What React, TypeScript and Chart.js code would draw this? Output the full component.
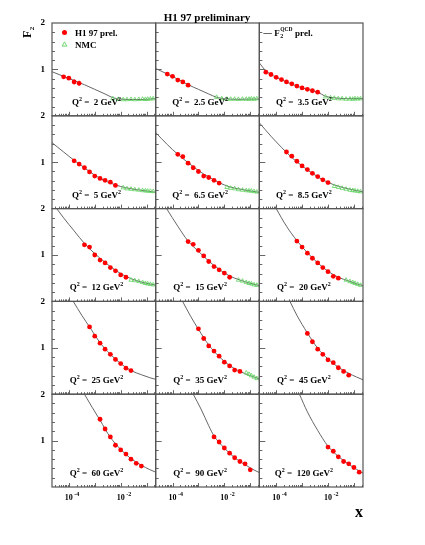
import React, { useEffect, useRef } from 'react';
import { Chart, registerables } from 'chart.js';

Chart.register(...registerables);

const FONT = "'Liberation Serif', 'Times New Roman', 'DejaVu Serif', serif";

// x range of every panel
const X_MIN = 2.24e-5;
const X_MAX = 0.224;
const X_LABEL_EXPONENTS = [-4, -2];

const Q2_LABELS = ['2', '2.5', '3.5', '5', '6.5', '8.5', '12', '15', '20', '25', '35', '45', '60', '90', '120'];

// H1 97 prel. : [x, F2, error]
const H1_Q2_2 = [[6.3e-5, 0.84, 0.03], [1.0e-4, 0.81, 0.03], [1.6e-4, 0.73, 0.06], [2.5e-4, 0.70, 0.06]];
const H1_Q2_2P5 = [[6.3e-5, 0.90, 0.03], [1.0e-4, 0.85, 0.02], [1.6e-4, 0.77, 0.02], [2.5e-4, 0.73, 0.02], [4.0e-4, 0.66, 0.02]];
const H1_Q2_3P5 = [[4.0e-5, 0.94, 0.03], [6.3e-5, 0.89, 0.02], [1.0e-4, 0.83, 0.02], [1.6e-4, 0.78, 0.02], [2.5e-4, 0.73, 0.02], [4.0e-4, 0.69, 0.02], [6.3e-4, 0.64, 0.02], [1.0e-3, 0.60, 0.02], [1.6e-3, 0.57, 0.02], [2.5e-3, 0.54, 0.02], [4.0e-3, 0.51, 0.02]];
const H1_Q2_5 = [[1.6e-4, 1.03, 0.03], [2.5e-4, 0.96, 0.02], [4.0e-4, 0.88, 0.02], [6.3e-4, 0.79, 0.02], [1.0e-3, 0.70, 0.02], [1.6e-3, 0.65, 0.02], [2.5e-3, 0.61, 0.02], [4.0e-3, 0.57, 0.02], [6.3e-3, 0.50, 0.02]];
const H1_Q2_6P5 = [[1.6e-4, 1.17, 0.04], [2.5e-4, 1.12, 0.04], [4.0e-4, 0.98, 0.02], [6.3e-4, 0.88, 0.02], [1.0e-3, 0.80, 0.02], [1.6e-3, 0.70, 0.02], [2.5e-3, 0.67, 0.02], [4.0e-3, 0.61, 0.02], [6.3e-3, 0.55, 0.02]];
const H1_Q2_8P5 = [[2.5e-4, 1.22, 0.04], [4.0e-4, 1.13, 0.03], [6.3e-4, 1.02, 0.02], [1.0e-3, 0.92, 0.02], [1.6e-3, 0.84, 0.02], [2.5e-3, 0.76, 0.02], [4.0e-3, 0.69, 0.02], [6.3e-3, 0.62, 0.02], [1.0e-2, 0.56, 0.02]];
const H1_Q2_12 = [[4.0e-4, 1.22, 0.04], [6.3e-4, 1.17, 0.03], [1.0e-3, 1.00, 0.02], [1.6e-3, 0.89, 0.02], [2.5e-3, 0.83, 0.02], [4.0e-3, 0.73, 0.02], [6.3e-3, 0.66, 0.02], [1.0e-2, 0.57, 0.02], [1.6e-2, 0.52, 0.02]];
const H1_Q2_15 = [[4.0e-4, 1.29, 0.04], [6.3e-4, 1.23, 0.03], [1.0e-3, 1.10, 0.02], [1.6e-3, 0.98, 0.02], [2.5e-3, 0.86, 0.02], [4.0e-3, 0.75, 0.02], [6.3e-3, 0.68, 0.02], [1.0e-2, 0.61, 0.02], [1.6e-2, 0.52, 0.02]];
const H1_Q2_20 = [[6.3e-4, 1.30, 0.03], [1.0e-3, 1.17, 0.02], [1.6e-3, 1.04, 0.02], [2.5e-3, 0.93, 0.02], [4.0e-3, 0.83, 0.02], [6.3e-3, 0.73, 0.02], [1.0e-2, 0.64, 0.02], [1.6e-2, 0.54, 0.02], [2.5e-2, 0.50, 0.02]];
const H1_Q2_25 = [[6.3e-4, 1.45, 0.04], [1.0e-3, 1.25, 0.03], [1.6e-3, 1.10, 0.02], [2.5e-3, 0.97, 0.02], [4.0e-3, 0.86, 0.02], [6.3e-3, 0.75, 0.02], [1.0e-2, 0.66, 0.02], [1.6e-2, 0.56, 0.02], [2.5e-2, 0.51, 0.02]];
const H1_Q2_35 = [[1.0e-3, 1.41, 0.04], [1.6e-3, 1.20, 0.03], [2.5e-3, 1.04, 0.02], [4.0e-3, 0.93, 0.02], [6.3e-3, 0.82, 0.02], [1.0e-2, 0.69, 0.02], [1.6e-2, 0.61, 0.02], [2.5e-2, 0.52, 0.02], [4.0e-2, 0.49, 0.02]];
const H1_Q2_45 = [[1.6e-3, 1.31, 0.04], [2.5e-3, 1.13, 0.03], [4.0e-3, 0.97, 0.02], [6.3e-3, 0.86, 0.02], [1.0e-2, 0.74, 0.02], [1.6e-2, 0.68, 0.02], [2.5e-2, 0.57, 0.02], [4.0e-2, 0.49, 0.02], [6.3e-2, 0.41, 0.02]];
const H1_Q2_60 = [[1.6e-3, 1.46, 0.05], [2.5e-3, 1.25, 0.03], [4.0e-3, 1.08, 0.03], [6.3e-3, 0.90, 0.02], [1.0e-2, 0.80, 0.02], [1.6e-2, 0.71, 0.02], [2.5e-2, 0.60, 0.02], [4.0e-2, 0.51, 0.02], [6.3e-2, 0.45, 0.02]];
const H1_Q2_90 = [[4.0e-3, 1.08, 0.03], [6.3e-3, 0.97, 0.03], [1.0e-2, 0.84, 0.02], [1.6e-2, 0.73, 0.02], [2.5e-2, 0.63, 0.02], [4.0e-2, 0.55, 0.02], [6.3e-2, 0.50, 0.02], [1.0e-1, 0.37, 0.02]];
const H1_Q2_120 = [[1.0e-2, 0.86, 0.03], [1.6e-2, 0.77, 0.03], [2.5e-2, 0.65, 0.02], [4.0e-2, 0.55, 0.02], [6.3e-2, 0.50, 0.02], [1.0e-1, 0.42, 0.02], [1.6e-1, 0.32, 0.02]];

// NMC : [x, F2]
const NMC_Q2_2 = [[0.005, 0.37], [0.008, 0.355], [0.0125, 0.35], [0.0175, 0.35], [0.025, 0.355], [0.035, 0.35], [0.05, 0.355], [0.07, 0.36], [0.09, 0.355], [0.11, 0.36], [0.14, 0.365], [0.18, 0.37]];
const NMC_Q2_2P5 = [[0.005, 0.40], [0.008, 0.37], [0.0125, 0.36], [0.0175, 0.36], [0.025, 0.36], [0.035, 0.355], [0.05, 0.36], [0.07, 0.36], [0.09, 0.36], [0.11, 0.365], [0.14, 0.36], [0.18, 0.37]];
const NMC_Q2_3P5 = [[0.008, 0.41], [0.0125, 0.39], [0.0175, 0.38], [0.025, 0.37], [0.035, 0.37], [0.05, 0.36], [0.07, 0.365], [0.09, 0.36], [0.11, 0.37], [0.14, 0.365], [0.18, 0.37]];
const NMC_Q2_5 = [[0.0125, 0.45], [0.0175, 0.43], [0.025, 0.42], [0.035, 0.41], [0.05, 0.40], [0.07, 0.39], [0.09, 0.385], [0.11, 0.38], [0.14, 0.375], [0.18, 0.37]];
const NMC_Q2_6P5 = [[0.0125, 0.46], [0.0175, 0.44], [0.025, 0.43], [0.035, 0.41], [0.05, 0.40], [0.07, 0.39], [0.09, 0.385], [0.11, 0.38], [0.14, 0.37], [0.18, 0.36]];
const NMC_Q2_8P5 = [[0.0175, 0.48], [0.025, 0.46], [0.035, 0.44], [0.05, 0.42], [0.07, 0.40], [0.09, 0.39], [0.11, 0.385], [0.14, 0.375], [0.18, 0.365]];
const NMC_Q2_12 = [[0.025, 0.46], [0.035, 0.45], [0.05, 0.43], [0.07, 0.41], [0.09, 0.39], [0.11, 0.38], [0.14, 0.37], [0.18, 0.36]];
const NMC_Q2_15 = [[0.035, 0.46], [0.05, 0.44], [0.07, 0.41], [0.09, 0.39], [0.11, 0.38], [0.14, 0.36], [0.18, 0.35]];
const NMC_Q2_20 = [[0.05, 0.46], [0.07, 0.43], [0.09, 0.41], [0.11, 0.39], [0.14, 0.37], [0.18, 0.35]];
const NMC_Q2_35 = [[0.07, 0.46], [0.09, 0.43], [0.11, 0.40], [0.14, 0.37], [0.18, 0.34]];

// F2 QCD prel. curve : [x, F2]
const QCD_Q2_2 = [[2.24e-5, 0.95], [6.3e-5, 0.85], [1.6e-4, 0.76], [4.0e-4, 0.67], [1.0e-3, 0.57], [2.5e-3, 0.47], [5.0e-3, 0.39], [0.01, 0.36], [0.0316, 0.35], [0.1, 0.355], [0.224, 0.37]];
const QCD_Q2_2P5 = [[2.24e-5, 1.02], [6.3e-5, 0.90], [1.6e-4, 0.79], [4.0e-4, 0.67], [1.0e-3, 0.57], [2.5e-3, 0.47], [5.0e-3, 0.40], [0.01, 0.37], [0.0316, 0.355], [0.1, 0.36], [0.224, 0.36]];
const QCD_Q2_3P5 = [[2.24e-5, 1.14], [4.0e-5, 0.97], [1.0e-4, 0.83], [2.5e-4, 0.73], [6.3e-4, 0.64], [1.6e-3, 0.57], [4.0e-3, 0.51], [0.008, 0.42], [0.0158, 0.39], [0.05, 0.37], [0.224, 0.37]];
const QCD_Q2_5 = [[2.24e-5, 1.42], [6.3e-5, 1.22], [1.6e-4, 1.04], [4.0e-4, 0.88], [1.0e-3, 0.72], [2.5e-3, 0.60], [6.3e-3, 0.51], [0.0158, 0.45], [0.04, 0.41], [0.1, 0.38], [0.224, 0.35]];
const QCD_Q2_6P5 = [[2.24e-5, 1.64], [6.3e-5, 1.38], [1.6e-4, 1.17], [4.0e-4, 0.99], [1.0e-3, 0.82], [2.5e-3, 0.68], [6.3e-3, 0.56], [0.0158, 0.47], [0.04, 0.42], [0.1, 0.38], [0.224, 0.35]];
const QCD_Q2_8P5 = [[2.24e-5, 1.85], [6.3e-5, 1.56], [1.6e-4, 1.32], [4.0e-4, 1.10], [1.0e-3, 0.92], [2.5e-3, 0.76], [6.3e-3, 0.62], [0.0158, 0.52], [0.04, 0.45], [0.1, 0.40], [0.224, 0.36]];
const QCD_Q2_12 = [[3.4e-5, 2.0], [6.3e-5, 1.80], [1.6e-4, 1.52], [4.0e-4, 1.25], [1.0e-3, 1.03], [2.5e-3, 0.84], [6.3e-3, 0.67], [0.0158, 0.54], [0.04, 0.45], [0.1, 0.39], [0.224, 0.35]];
const QCD_Q2_15 = [[5.9e-5, 2.0], [1.6e-4, 1.62], [4.0e-4, 1.30], [1.0e-3, 1.08], [2.5e-3, 0.87], [6.3e-3, 0.69], [0.0158, 0.55], [0.04, 0.46], [0.1, 0.39], [0.224, 0.34]];
const QCD_Q2_20 = [[1.0e-4, 2.0], [2.5e-4, 1.62], [6.3e-4, 1.31], [1.6e-3, 1.05], [4.0e-3, 0.83], [0.01, 0.65], [0.025, 0.52], [0.063, 0.44], [0.126, 0.38], [0.224, 0.34]];
const QCD_Q2_25 = [[1.48e-4, 2.0], [3.16e-4, 1.70], [6.3e-4, 1.45], [1.6e-3, 1.11], [4.0e-3, 0.86], [0.01, 0.66], [0.025, 0.51], [0.063, 0.42], [0.126, 0.36], [0.224, 0.32]];
const QCD_Q2_35 = [[2.45e-4, 2.0], [5.0e-4, 1.68], [1.0e-3, 1.40], [2.5e-3, 1.06], [6.3e-3, 0.81], [0.0158, 0.62], [0.04, 0.49], [0.1, 0.40], [0.224, 0.33]];
const QCD_Q2_45 = [[3.4e-4, 2.0], [6.3e-4, 1.70], [1.6e-3, 1.32], [4.0e-3, 0.99], [0.01, 0.76], [0.025, 0.58], [0.063, 0.45], [0.126, 0.37], [0.224, 0.31]];
const QCD_Q2_60 = [[4.0e-4, 2.0], [7.9e-4, 1.72], [1.6e-3, 1.44], [4.0e-3, 1.07], [0.01, 0.81], [0.025, 0.61], [0.063, 0.47], [0.126, 0.38], [0.224, 0.32]];
const QCD_Q2_90 = [[6.3e-4, 2.0], [1.26e-3, 1.68], [2.5e-3, 1.32], [4.0e-3, 1.10], [0.01, 0.84], [0.025, 0.63], [0.063, 0.48], [0.126, 0.38], [0.224, 0.31]];
const QCD_Q2_120 = [[7.9e-4, 2.0], [1.6e-3, 1.62], [4.0e-3, 1.22], [0.01, 0.88], [0.025, 0.66], [0.063, 0.49], [0.126, 0.38], [0.224, 0.30]];

const H1_SETS = [H1_Q2_2, H1_Q2_2P5, H1_Q2_3P5, H1_Q2_5, H1_Q2_6P5, H1_Q2_8P5, H1_Q2_12, H1_Q2_15, H1_Q2_20, H1_Q2_25, H1_Q2_35, H1_Q2_45, H1_Q2_60, H1_Q2_90, H1_Q2_120];
const NMC_SETS = [NMC_Q2_2, NMC_Q2_2P5, NMC_Q2_3P5, NMC_Q2_5, NMC_Q2_6P5, NMC_Q2_8P5, NMC_Q2_12, NMC_Q2_15, NMC_Q2_20, [], NMC_Q2_35, [], [], [], []];
const QCD_SETS = [QCD_Q2_2, QCD_Q2_2P5, QCD_Q2_3P5, QCD_Q2_5, QCD_Q2_6P5, QCD_Q2_8P5, QCD_Q2_12, QCD_Q2_15, QCD_Q2_20, QCD_Q2_25, QCD_Q2_35, QCD_Q2_45, QCD_Q2_60, QCD_Q2_90, QCD_Q2_120];

const NCOLS = 3;
const NROWS = 5;

type Part = { t: string; size: number; dy?: number };

function drawRich(ctx: CanvasRenderingContext2D, x: number, y: number, parts: Part[], align: 'left' | 'center' | 'right') {
  const widths = parts.map((p) => {
    ctx.font = `bold ${p.size}px ${FONT}`;
    return ctx.measureText(p.t).width;
  });
  const total = widths.reduce((a, b) => a + b, 0);
  let cx = align === 'left' ? x : align === 'center' ? x - total / 2 : x - total;
  ctx.textAlign = 'left';
  ctx.textBaseline = 'alphabetic';
  parts.forEach((p, i) => {
    ctx.font = `bold ${p.size}px ${FONT}`;
    ctx.fillText(p.t, cx, y + (p.dy || 0));
    cx += widths[i];
  });
}

function line(ctx: CanvasRenderingContext2D, x1: number, y1: number, x2: number, y2: number) {
  ctx.beginPath();
  ctx.moveTo(x1, y1);
  ctx.lineTo(x2, y2);
  ctx.stroke();
}

const panelPlugin = {
  id: 'h1panels',
  beforeDatasetsDraw(chart: any) {
    const ctx: CanvasRenderingContext2D = chart.ctx;
    ctx.save();
    ctx.strokeStyle = '#cc2222';
    ctx.lineWidth = 0.8;
    chart.data.datasets.forEach((ds: any, di: number) => {
      if (ds.kind !== 'h1') return;
      const meta = chart.getDatasetMeta(di);
      const ys = chart.scales[ds.yAxisID];
      meta.data.forEach((el: any, j: number) => {
        const v = ds.data[j].y;
        const e = ds.errs[j];
        line(ctx, el.x, ys.getPixelForValue(v - e), el.x, ys.getPixelForValue(v + e));
      });
    });
    ctx.restore();
  },
  afterDraw(chart: any) {
    const ctx: CanvasRenderingContext2D = chart.ctx;
    ctx.save();
    // panel ticks
    ctx.strokeStyle = '#666';
    ctx.lineWidth = 1;
    for (let r = 0; r < NROWS; r++) {
      for (let c = 0; c < NCOLS; c++) {
        const xs = chart.scales['x' + c];
        const ys = chart.scales['y' + r];
        for (let k = 1; k < 10; k++) {
          const py = Math.round(ys.getPixelForValue(k * 0.2)) + 0.5;
          line(ctx, xs.left, py, xs.left + (k === 5 ? 6 : 3), py);
        }
        for (let e = -5; e <= 0; e++) {
          for (let m = 1; m <= 9; m++) {
            const v = m * Math.pow(10, e);
            if (v < X_MIN || v > X_MAX) continue;
            const px = Math.round(xs.getPixelForValue(v)) + 0.5;
            line(ctx, px, ys.bottom, px, ys.bottom - (m === 1 ? 4 : 2));
          }
        }
      }
    }
    // frames
    ctx.strokeStyle = '#555';
    ctx.lineWidth = 1.2;
    for (let r = 0; r < NROWS; r++) {
      for (let c = 0; c < NCOLS; c++) {
        const xs = chart.scales['x' + c];
        const ys = chart.scales['y' + r];
        ctx.strokeRect(xs.left, ys.top, xs.right - xs.left, ys.bottom - ys.top);
      }
    }
    ctx.fillStyle = '#000';
    // Q2 labels
    for (let i = 0; i < Q2_LABELS.length; i++) {
      const xs = chart.scales['x' + (i % NCOLS)];
      const ys = chart.scales['y' + Math.floor(i / NCOLS)];
      drawRich(ctx, xs.left + 44.5, ys.bottom - 11, [
        { t: 'Q', size: 9 },
        { t: '2', size: 6, dy: -4 },
        { t: ' =  ' + Q2_LABELS[i] + ' GeV', size: 9 },
        { t: '2', size: 6, dy: -4 },
      ], 'center');
    }
    // x tick labels
    const bottomY = chart.scales['y' + (NROWS - 1)].bottom;
    for (let c = 0; c < NCOLS; c++) {
      const xs = chart.scales['x' + c];
      X_LABEL_EXPONENTS.forEach((e) => {
        const px = xs.getPixelForValue(Math.pow(10, e));
        ctx.font = `bold 8px ${FONT}`;
        const w = ctx.measureText('10').width;
        drawRich(ctx, px - w / 2, bottomY + 13, [
          { t: '10', size: 8 },
          { t: ' ' + String(e), size: 6, dy: -4 },
        ], 'left');
      });
    }
    // title
    drawRich(ctx, 207, 21, [{ t: 'H1 97 preliminary', size: 11 }], 'center');
    // y title (rotated)
    ctx.save();
    ctx.translate(31, 38);
    ctx.rotate(-Math.PI / 2);
    ctx.font = `bold 12px ${FONT}`;
    const fw = ctx.measureText('F').width;
    ctx.fillText('F', 0, 0);
    ctx.font = `bold 7px ${FONT}`;
    ctx.fillText('2', fw + 0.5, 3);
    ctx.restore();
    // x title
    drawRich(ctx, 363, 517, [{ t: 'x', size: 16 }], 'right');
    // legend (panel 1)
    const x0 = chart.scales.x0;
    const y0 = chart.scales.y0;
    ctx.fillStyle = '#ff0000';
    ctx.beginPath();
    ctx.arc(x0.left + 12.5, y0.top + 9.5, 2.5, 0, Math.PI * 2);
    ctx.fill();
    ctx.strokeStyle = '#5fd35f';
    ctx.lineWidth = 0.9;
    ctx.beginPath();
    const tx = x0.left + 12.5;
    const ty = y0.top + 21.5;
    ctx.moveTo(tx, ty - 2.6);
    ctx.lineTo(tx + 2.4, ty + 1.6);
    ctx.lineTo(tx - 2.4, ty + 1.6);
    ctx.closePath();
    ctx.stroke();
    ctx.fillStyle = '#000';
    drawRich(ctx, x0.left + 23, y0.top + 13, [{ t: 'H1 97 prel.', size: 9 }], 'left');
    drawRich(ctx, x0.left + 23, y0.top + 24.5, [{ t: 'NMC', size: 9 }], 'left');
    // legend (panel 3)
    const x2 = chart.scales.x2;
    ctx.strokeStyle = '#666';
    ctx.lineWidth = 1;
    line(ctx, x2.left + 4, y0.top + 10.5, x2.left + 12.5, y0.top + 10.5);
    const lx = x2.left + 15;
    const ly = y0.top + 13;
    ctx.font = `bold 9px ${FONT}`;
    const Fw = ctx.measureText('F').width;
    ctx.fillText('F', lx, ly);
    ctx.font = `bold 5.5px ${FONT}`;
    const qw = ctx.measureText('QCD').width;
    ctx.fillText('QCD', lx + Fw + 0.5, ly - 5);
    ctx.font = `bold 6px ${FONT}`;
    ctx.fillText('2', lx + Fw + 0.5, ly + 2);
    drawRich(ctx, lx + Fw + qw + 3, ly, [{ t: 'prel.', size: 9 }], 'left');
    ctx.restore();
  },
};

export default function App() {
  const ref = useRef<HTMLCanvasElement>(null);
  useEffect(() => {
    const datasets: any[] = [];
    Q2_LABELS.forEach((q, i) => {
      const xAxisID = 'x' + (i % NCOLS);
      const yAxisID = 'y' + Math.floor(i / NCOLS);
      datasets.push({
        kind: 'h1',
        label: 'H1 97 prel. Q2=' + q,
        data: H1_SETS[i].map((p) => ({ x: p[0], y: p[1] })),
        errs: H1_SETS[i].map((p) => p[2]),
        xAxisID,
        yAxisID,
        showLine: false,
        pointStyle: 'circle',
        pointRadius: 2.4,
        backgroundColor: '#ff0000',
        borderColor: '#ff0000',
        pointBorderWidth: 0,
        order: 0,
      });
      if (NMC_SETS[i].length) {
        datasets.push({
          kind: 'nmc',
          label: 'NMC Q2=' + q,
          data: NMC_SETS[i].map((p) => ({ x: p[0], y: p[1] })),
          xAxisID,
          yAxisID,
          showLine: false,
          pointStyle: 'triangle',
          pointRadius: 2.4,
          backgroundColor: 'rgba(0,0,0,0)',
          borderColor: '#5fd35f',
          pointBorderWidth: 0.8,
          order: 1,
        });
      }
      datasets.push({
        kind: 'qcd',
        label: 'F2 QCD prel. Q2=' + q,
        data: QCD_SETS[i].map((p) => ({ x: p[0], y: p[1] })),
        xAxisID,
        yAxisID,
        showLine: true,
        pointRadius: 0,
        borderColor: '#666',
        borderWidth: 1,
        cubicInterpolationMode: 'monotone',
        fill: false,
        order: 2,
      });
    });

    const scales: any = {};
    for (let c = 0; c < NCOLS; c++) {
      scales['x' + c] = {
        type: 'logarithmic',
        axis: 'x',
        position: 'bottom',
        stack: 'cols',
        stackWeight: 1,
        weight: c,
        min: X_MIN,
        max: X_MAX,
        grid: { display: false, drawTicks: false },
        border: { display: false },
        ticks: { display: false },
        afterFit: (s: any) => { s.height = 0; },
      };
    }
    for (let r = 0; r < NROWS; r++) {
      scales['y' + r] = {
        type: 'linear',
        axis: 'y',
        position: 'left',
        stack: 'rows',
        stackWeight: 1,
        weight: NROWS - 1 - r,
        min: 0,
        max: 2,
        grid: { display: false, drawTicks: false },
        border: { display: false },
        ticks: {
          stepSize: 1,
          padding: 7,
          color: '#000',
          font: { family: FONT, size: 9, weight: 'bold' },
          callback: (v: any) => (Number(v) === 0 ? '' : String(v)),
        },
        afterFit: (s: any) => { s.width = 52; },
      };
    }

    const chart = new Chart(ref.current as HTMLCanvasElement, {
      type: 'scatter',
      data: { datasets },
      options: {
        animation: false,
        responsive: false,
        devicePixelRatio: 1,
        events: [],
        layout: { padding: { left: 0, right: 62, top: 23, bottom: 58 } },
        scales,
        plugins: { legend: { display: false }, tooltip: { enabled: false }, title: { display: false } },
      } as any,
      plugins: [panelPlugin as any],
    });
    return () => chart.destroy();
  }, []);
  return (
    <div style={{ position: 'absolute', left: 0, top: 0, width: 425, height: 545, background: '#fff' }}>
      <canvas ref={ref} width={425} height={545} style={{ display: 'block', width: 425, height: 545 }} />
    </div>
  );
}
